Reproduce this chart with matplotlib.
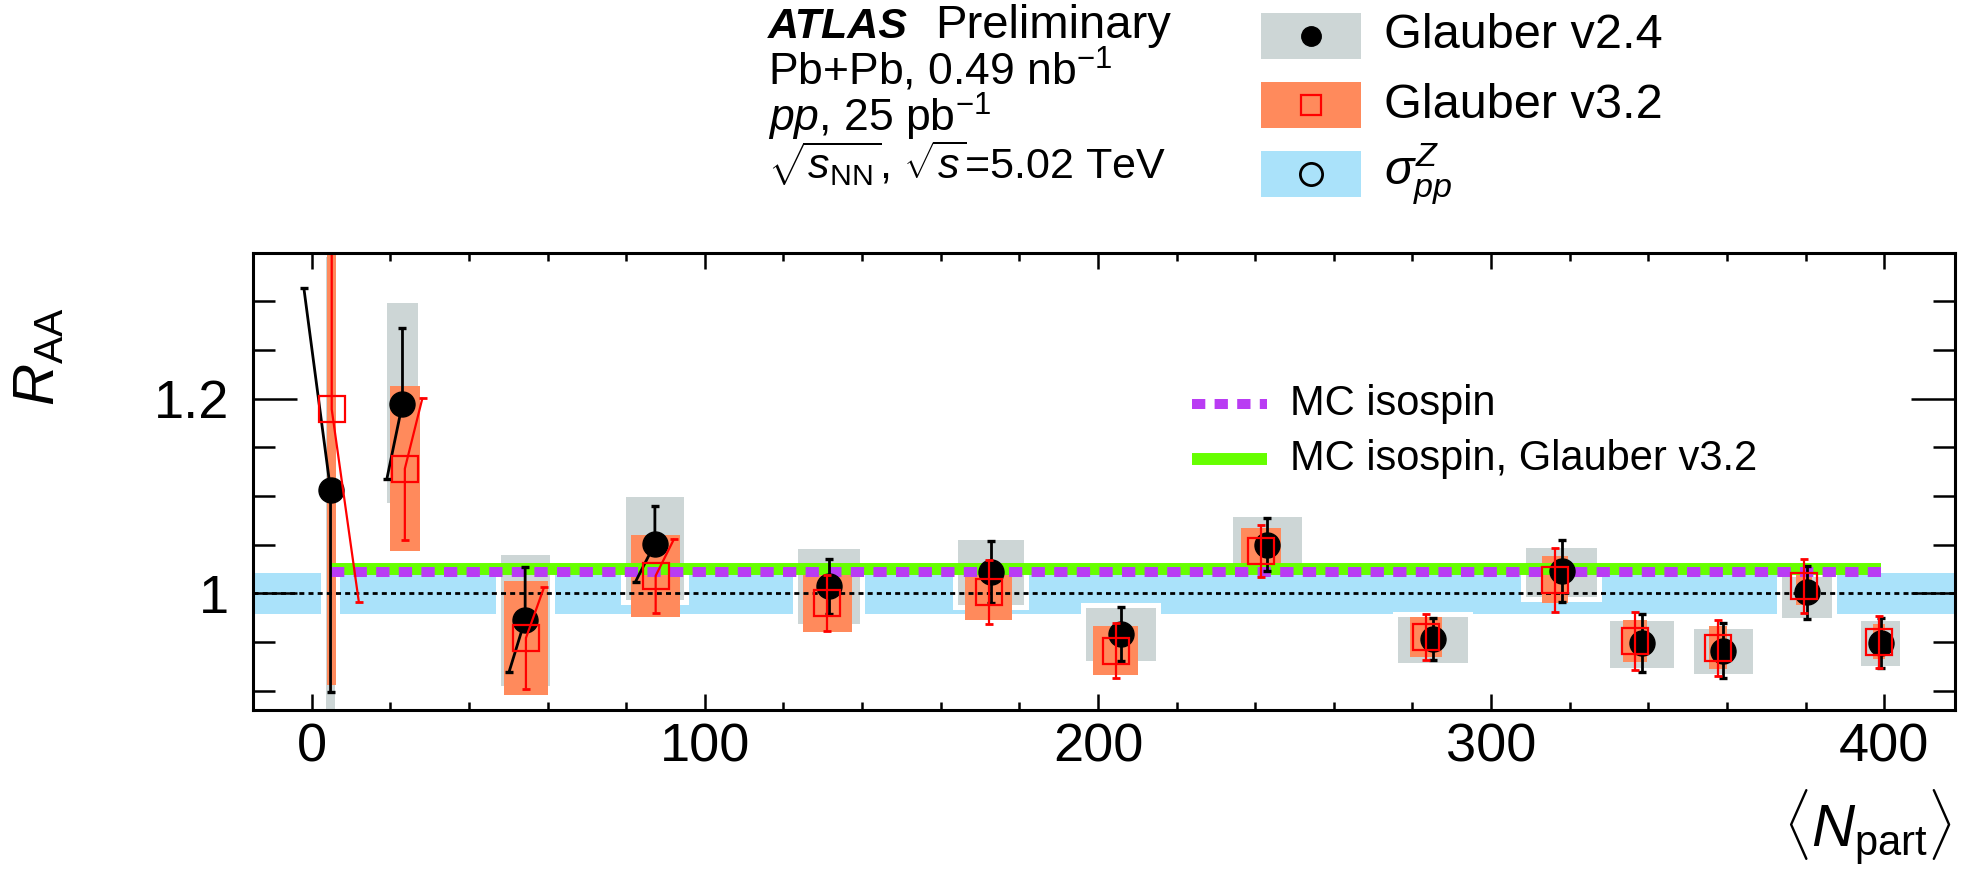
import matplotlib
matplotlib.use('Agg')
import matplotlib.pyplot as plt
from matplotlib.patches import Rectangle
from matplotlib.lines import Line2D
from matplotlib.ticker import MultipleLocator, FuncFormatter
import matplotlib.patheffects as pe

# ---------------- data ----------------
npart_v24 = [4.8, 23.1, 54.3, 87.3, 131.6, 172.9, 205.8, 243.1, 285.3, 318.0, 338.3, 359.1, 380.3, 399.1]
raa_v24 = [1.106, 1.195, 0.973, 1.051, 1.007, 1.022, 0.958, 1.050, 0.953, 1.023, 0.949, 0.941, 1.001, 0.949]
stat_v24 = [0.208, 0.078, 0.054, 0.039, 0.028, 0.032, 0.028, 0.027, 0.022, 0.032, 0.030, 0.028, 0.027, 0.026]
sys_up_v24 = [0.24, 0.103, 0.066, 0.048, 0.038, 0.033, 0.027, 0.028, 0.023, 0.024, 0.022, 0.022, 0.016, 0.022]
sys_dn_v24 = [0.24, 0.102, 0.068, 0.058, 0.039, 0.034, 0.028, 0.023, 0.025, 0.027, 0.026, 0.024, 0.026, 0.024]
npart_err_v24 = [1.2, 4.0, 6.2, 7.4, 8.0, 8.4, 8.9, 8.8, 8.9, 9.0, 8.1, 7.4, 6.4, 5.0]
# x where the drawn stat-bar ends sit (as drawn in the original figure)
errx_hi_v24 = [-2.0, 23.1, 54.3, 87.3, 131.6, 172.9, 205.8, 243.1, 285.3, 318.0, 338.3, 359.1, 380.3, 399.1]
errx_lo_v24 = [4.8, 19.1, 50.2, 82.4, 131.6, 172.9, 205.8, 243.1, 285.3, 318.0, 338.3, 359.1, 380.3, 399.1]

npart_v32 = [5.1, 23.7, 54.5, 87.5, 131.2, 172.2, 204.5, 241.4, 283.4, 316.3, 336.6, 357.8, 379.5, 398.7]
raa_v32 = [1.189, 1.128, 0.954, 1.018, 0.990, 1.001, 0.941, 1.0435, 0.955, 1.014, 0.951, 0.944, 1.0075, 0.950]
stat_v32 = [0.198, 0.073, 0.052, 0.038, 0.029, 0.033, 0.028, 0.027, 0.024, 0.033, 0.030, 0.029, 0.028, 0.027]
sys_v32 = [0.283, 0.085, 0.059, 0.042, 0.030, 0.029, 0.025, 0.024, 0.021, 0.024, 0.022, 0.022, 0.020, 0.018]
npart_err_v32 = [1.2, 3.85, 5.5, 6.15, 6.25, 5.95, 5.7, 5.1, 4.05, 3.3, 3.0, 2.25, 2.0, 1.5]
errx_hi_v32 = [5.1, 28.2, 59.1, 92.2, 131.2, 172.2, 204.5, 241.4, 283.4, 316.3, 336.6, 357.8, 379.5, 398.7]
errx_lo_v32 = [12.0, 23.7, 54.5, 87.5, 131.2, 172.2, 204.5, 241.4, 283.4, 316.3, 336.6, 357.8, 379.5, 398.7]

sigma_pp_unc = 0.0213
mc_isospin = 1.022
mc_isospin_v32 = 1.025

xticks_major = [0, 100, 200, 300, 400]

# ---------------- style ----------------
FONT = 'Liberation Sans'
plt.rcParams['font.family'] = [FONT, 'DejaVu Sans']
plt.rcParams['mathtext.fontset'] = 'custom'
plt.rcParams['mathtext.rm'] = FONT
plt.rcParams['mathtext.it'] = FONT + ':italic'
plt.rcParams['mathtext.bf'] = FONT + ':bold'
plt.rcParams['mathtext.sf'] = FONT

C_GRAY = '#cdd6d6'
C_ORANGE = '#ff8a5c'
C_BLUE = '#aae2fa'
C_GREEN = '#66ff00'
C_PURPLE = '#b93cf3'
C_RED = '#ff0000'

W, H = 1967, 875
fig = plt.figure(figsize=(W / 100, H / 100), dpi=100)


def fx(px):
    return px / W


def fy(py):
    return 1 - py / H


ax = fig.add_axes([fx(252.7), fy(710), (1955 - 252.7) / W, (710 - 252.7) / H])
ax.set_xlim(-15, 418)
ax.set_ylim(0.88, 1.35)

# sigma_pp band
ax.axhspan(1 - sigma_pp_unc, 1 + sigma_pp_unc, color=C_BLUE, lw=0, zorder=1)

# Glauber v2.4 systematic boxes (with white halo)
for x, y, dx, su, sd in zip(npart_v24, raa_v24, npart_err_v24, sys_up_v24, sys_dn_v24):
    r = Rectangle((x - dx, y - sd), 2 * dx, su + sd, facecolor=C_GRAY, edgecolor='none', zorder=2)
    r.set_path_effects([pe.Stroke(linewidth=7.2, foreground='white'), pe.Normal()])
    ax.add_patch(r)

# Glauber v3.2 systematic boxes
for x, y, dx, s in zip(npart_v32, raa_v32, npart_err_v32, sys_v32):
    ax.add_patch(Rectangle((x - dx, y - s), 2 * dx, 2 * s, facecolor=C_ORANGE,
                           edgecolor='none', zorder=3))

# unity line
ax.axhline(1.0, color='black', lw=2.0, dashes=(1.8, 1.5), zorder=4)

# MC lines
x0, x1 = npart_v24[0], npart_v24[-1]
ax.plot([x0, x1], [mc_isospin_v32] * 2, color=C_GREEN, lw=8.6, solid_capstyle='butt', zorder=5)
ax.plot([x0, x1], [mc_isospin] * 2, color=C_PURPLE, lw=7.2, dashes=(1.33, 0.93),
        dash_capstyle='butt', zorder=6)

cap_kw = dict(marker='_', markersize=6, linestyle='none')

# Glauber v2.4 stat bars + points
for x, y, s, xh, xl in zip(npart_v24, raa_v24, stat_v24, errx_hi_v24, errx_lo_v24):
    ax.plot([xh, x, xl], [y + s, y, y - s], color='black', lw=2.0, zorder=7,
            solid_capstyle='butt')
    ax.plot([xh, xl], [y + s, y - s], color='black', mew=2.4, zorder=7, **cap_kw)
ax.plot(npart_v24, raa_v24, 'o', color='black', markersize=18, zorder=8)

# Glauber v3.2 stat bars + points
for x, y, s, xh, xl in zip(npart_v32, raa_v32, stat_v32, errx_hi_v32, errx_lo_v32):
    ax.plot([xh, x, xl], [y + s, y, y - s], color=C_RED, lw=1.6, zorder=9,
            solid_capstyle='butt')
    ax.plot([xh, xl], [y + s, y - s], color=C_RED, mew=2.0, zorder=9, **cap_kw)
ax.plot(npart_v32, raa_v32, 's', mfc='none', mec=C_RED, mew=1.6, markersize=18.5, zorder=10)

# axes style
for sp in ax.spines.values():
    sp.set_linewidth(2.2)
    sp.set_zorder(20)
ax.xaxis.set_major_locator(MultipleLocator(100))
ax.xaxis.set_minor_locator(MultipleLocator(20))
ax.yaxis.set_major_locator(MultipleLocator(0.2))
ax.yaxis.set_minor_locator(MultipleLocator(0.05))
ax.yaxis.set_major_formatter(FuncFormatter(lambda v, p: '%g' % round(v, 3)))
ax.set_xticks(xticks_major)
ax.tick_params(axis='both', which='both', direction='in', top=True, right=True, width=1.8, zorder=21)
ax.tick_params(axis='y', which='major', length=32, labelsize=39, pad=17)
ax.tick_params(axis='y', which='minor', length=16)
ax.tick_params(axis='x', which='major', length=11.5, labelsize=39, pad=9)
ax.tick_params(axis='x', which='minor', length=5.8)

# axis titles
fig.text(fx(39), fy(357), r'$R_{\rm AA}$', rotation=90, ha='center', va='center', fontsize=42)
fig.text(fx(1952), fy(848), r'$\langle N_{\rm part}\rangle$', ha='right', va='baseline', fontsize=43)

# ATLAS label block
fig.text(fx(768), fy(38), 'ATLAS', fontsize=31, fontweight='bold', fontstyle='italic', va='baseline')
fig.text(fx(935), fy(38), 'Preliminary', fontsize=34, va='baseline')
fig.text(fx(768), fy(85), r'Pb+Pb, 0.49 nb$^{-1}$', fontsize=32, va='baseline')
fig.text(fx(768), fy(132), r'$pp$, 25 pb$^{-1}$', fontsize=32, va='baseline')
fig.text(fx(768), fy(179), r'$\sqrt{s_{\rm NN}}$, $\sqrt{s}$=5.02 TeV', fontsize=31, va='baseline')

# upper legend
leg_rows = [(36, C_GRAY, 'Glauber v2.4'), (105, C_ORANGE, 'Glauber v3.2'), (174, C_BLUE, r'$\sigma^{Z}_{pp}$')]
for i, (yc, col, lab) in enumerate(leg_rows):
    fig.add_artist(Rectangle((fx(1261), fy(yc + 23)), 100 / W, 46 / H, transform=fig.transFigure,
                             facecolor=col, edgecolor='none'))
    fig.text(fx(1384), fy(yc), lab, fontsize=35, va='center')
fig.add_artist(Line2D([fx(1311)], [fy(36)], marker='o', color='black', markersize=14,
                      transform=fig.transFigure))
fig.add_artist(Line2D([fx(1311)], [fy(105)], marker='s', mfc='none', mec=C_RED, mew=1.6,
                      markersize=14, transform=fig.transFigure))
fig.add_artist(Line2D([fx(1311)], [fy(174)], marker='o', mfc='none', mec='black', mew=2.0,
                      markersize=16, transform=fig.transFigure))

# inner legend
fig.add_artist(Line2D([fx(1192), fx(1267)], [fy(404)] * 2, color=C_PURPLE, lw=7.2,
                      dashes=(1.33, 0.93), dash_capstyle='butt', transform=fig.transFigure))
fig.text(fx(1290), fy(404), 'MC isospin', fontsize=30, va='center')
fig.add_artist(Line2D([fx(1192), fx(1267)], [fy(459)] * 2, color=C_GREEN, lw=8.6,
                      solid_capstyle='butt', transform=fig.transFigure))
fig.text(fx(1290), fy(459), 'MC isospin, Glauber v3.2', fontsize=30, va='center')

fig.savefig('out.png', dpi=100)
